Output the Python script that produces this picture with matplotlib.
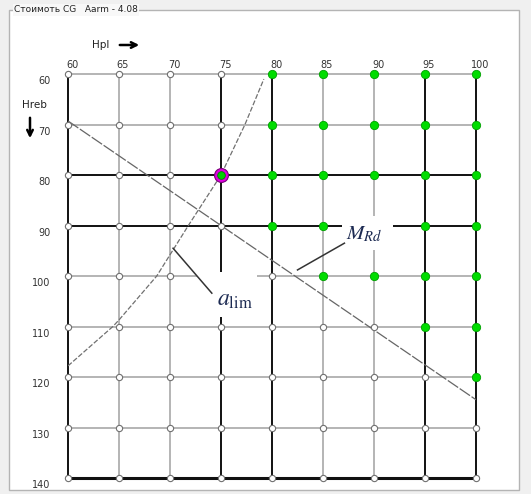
import matplotlib.pyplot as plt
from matplotlib.patches import Rectangle
from matplotlib import transforms

plt.rcParams['mathtext.fontset'] = 'stix'

# grid values
hpl = [60, 65, 70, 75, 80, 85, 90, 95, 100]
hreb = [60, 70, 80, 90, 100, 110, 120, 130, 140]
dark_hpl = [60, 75, 80, 95, 100]
dark_hreb = [80, 90, 140]

# smallest Hpl that is feasible (green) on each Hreb row, None = none
first_ok = [80, 80, 80, 80, 85, 95, 100, None, None]
best = (75, 80)

# M_Rd line and a_lim curve
mrd_hpl = [60, 100]
mrd_hreb = [69.3, 124.5]
alim_hpl = [60, 64.4, 65, 68.7, 70, 71.8, 75, 77.35, 79.2]
alim_hreb = [117.8, 110, 108.7, 100, 95.8, 90, 80, 70, 61]

W, H = 531, 494
fig = plt.figure(figsize=(W / 100, H / 100), dpi=100)
fig.patch.set_facecolor('#f0f0f0')

# group box
fig.patches.append(Rectangle((9 / W, 1 - 490 / H), 510 / W, 480 / H, transform=fig.transFigure,
                             facecolor='white', edgecolor='#b4b4b4', lw=1, zorder=-5))
fig.text(14 / W, 1 - 10 / H, 'Стоимоть CG   Aarm - 4.08', fontsize=6.5, va='center', ha='left',
         color='#222222', bbox=dict(facecolor='#f8f8f8', edgecolor='none', pad=1))

ax = fig.add_axes([68 / W, 1 - 478 / H, 408 / W, 404 / H])
ax.set_xlim(60, 100)
ax.set_ylim(140, 60)
for s in ax.spines.values():
    s.set_visible(False)
ax.patch.set_alpha(0)

for x in hpl:
    dark = x in dark_hpl
    ax.plot([x, x], [60, 140], color='#111111' if dark else '#a0a0a0', lw=1.4 if dark else 1.1,
            zorder=1, clip_on=False)
for y in hreb:
    dark = y in dark_hreb
    ax.plot([60, 100], [y, y], color='#111111' if dark else '#a0a0a0',
            lw=(2.2 if y == 140 else 1.4) if dark else 1.1, zorder=1, clip_on=False)

ax.plot(mrd_hpl, mrd_hreb, color='#666666', lw=0.9, ls=(0, (10, 1.5)), zorder=2)
ax.plot(alim_hpl, alim_hreb, color='#707070', lw=0.9, ls=(0, (4, 1.5)), zorder=2)

for y, lim in zip(hreb, first_ok):
    for x in hpl:
        if (x, y) == best:
            ax.plot(x, y, 'o', ms=10, mfc='#e000e0', mec='#7a007a', mew=0.8, zorder=4, clip_on=False)
            ax.plot(x, y, 'o', ms=5.5, mfc='#00d000', mec='#008000', mew=0.6, zorder=5, clip_on=False)
        elif lim is not None and x >= lim:
            ax.plot(x, y, 'o', ms=6, mfc='#00dd00', mec='#00a000', mew=0.6, zorder=4, clip_on=False)
        else:
            ax.plot(x, y, 'o', ms=4.5, mfc='white', mec='#707070', mew=0.8, zorder=4, clip_on=False)

# labels with white boxes and leader lines
ax.add_patch(Rectangle((72.6, 99.2), 5.9, 9.0, facecolor='white', edgecolor='none', zorder=5))
ax.plot([74.1, 70.3], [103.4, 94.5], color='#333333', lw=1.1, zorder=6)
ax.text(76.4, 104.6, r'$a_{\mathrm{lim}}$', fontsize=17, color='#1c2a52', ha='center', va='center',
        zorder=7)
ax.add_patch(Rectangle((86.9, 88.1), 5.0, 6.8, facecolor='white', edgecolor='none', zorder=5))
ax.plot([87.1, 82.5], [93.5, 98.8], color='#333333', lw=1.1, zorder=6)
ax.text(89.0, 91.7, r'$M_{Rd}$', fontsize=15, color='#1c2a52', ha='center', va='center',
        zorder=7)

ax.xaxis.tick_top()
ax.set_xticks(hpl)
ax.set_xticklabels([str(v) for v in hpl])
ax.set_yticks(hreb)
ax.set_yticklabels([str(v) for v in hreb])
ax.tick_params(length=0, labelsize=7, labelcolor='#333333', pad=3)
ax.tick_params(axis='y', pad=14)
for lab in ax.get_xticklabels():
    lab.set_transform(lab.get_transform() + transforms.ScaledTranslation(4 / 100, 0, fig.dpi_scale_trans))
for lab in ax.get_yticklabels():
    lab.set_transform(lab.get_transform() + transforms.ScaledTranslation(2 / 100, -6 / 100, fig.dpi_scale_trans))

# axis captions with arrows
fig.text(92 / W, 1 - 45 / H, 'Hpl', fontsize=7.5, color='#222222', va='center')
fig.add_artist(plt.Annotation('', xy=(142 / W, 1 - 45 / H), xytext=(117 / W, 1 - 45 / H),
                              xycoords='figure fraction',
                              arrowprops=dict(arrowstyle='->', lw=1.8, color='black')))
fig.text(22 / W, 1 - 105 / H, 'Hreb', fontsize=7.5, color='#222222', va='center')
fig.add_artist(plt.Annotation('', xy=(30 / W, 1 - 141 / H), xytext=(30 / W, 1 - 115 / H),
                              xycoords='figure fraction',
                              arrowprops=dict(arrowstyle='->', lw=1.8, color='black')))

fig.savefig('out.png', dpi=100, facecolor=fig.get_facecolor())
